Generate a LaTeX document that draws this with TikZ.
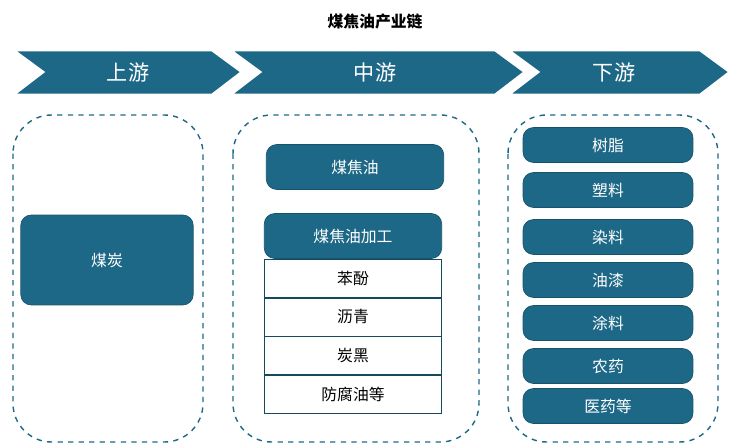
\documentclass[tikz,border=0pt]{standalone}
\usepackage{fontspec}
\newfontfamily\cjk{Noto Sans CJK SC}
\usetikzlibrary{positioning}
\definecolor{teal}{HTML}{1E6887}
\tikzset{
	box/.style={fill=teal,draw=teal!80!black,rounded corners=6pt,text=white,font=\cjk\small},
	item/.style={draw=teal!70!black,fill=white,font=\cjk\small,minimum width=3.55cm,minimum height=0.76cm,inner sep=0pt},
	group/.style={draw=teal,dashed,thick,rounded corners=22pt},
	stage/.style={fill=teal,draw=white,line width=1.5pt},
	head/.style={text=white,font=\cjk\large}
}
\begin{document}
\begin{tikzpicture}[x=0.02cm,y=-0.02cm]
		\useasboundingbox (0,0) rectangle (750,447);
		\node[font=\cjk\small\bfseries] (title) at (375,22) {煤焦油产业链};
		% chevrons
		\fill[stage] (13,50) -- (212,50) -- (242,72) -- (212,95) -- (13,95) -- (43,72) -- cycle;
		\fill[stage] (230,50) -- (495,50) -- (525,72) -- (495,95) -- (230,95) -- (260,72) -- cycle;
		\fill[stage] (508,50) -- (700,50) -- (730,72) -- (700,95) -- (508,95) -- (538,72) -- cycle;
		\node[head] (up) at (128,72) {上游};
		\node[head] (mid) at (375,72) {中游};
		\node[head] (down) at (614,72) {下游};
		% groups
		\draw[group] (13,115) rectangle (203,442);
		\draw[group] (233,115) rectangle (479,442);
		\draw[group] (508,115) rectangle (718,442);
		% upstream
		\node[box,minimum width=3.45cm,minimum height=1.8cm] (coal) at (107,260) {煤炭};
		% midstream
		\node[box,minimum width=3.55cm,minimum height=0.9cm] (tar) at (355,167) {煤焦油};
		\node[box,minimum width=3.55cm,minimum height=0.9cm] (proc) at (353,236) {煤焦油加工};
		\node[item,below=0pt of proc] (phenol) {苯酚};
		\node[item,below=0pt of phenol] (pitch) {沥青};
		\node[item,below=0pt of pitch] (black) {炭黑};
		\node[item,below=0pt of black] (oil) {防腐油等};
		% downstream
		\foreach \y/\t [count=\i] in {145/树脂,190/塑料,237/染料,280/油漆,323/涂料,366/农药,406/医药等}
			\node[box,minimum width=3.4cm,minimum height=0.7cm] (d\i) at (608,\y) {\t};
	\end{tikzpicture}
\end{document}
